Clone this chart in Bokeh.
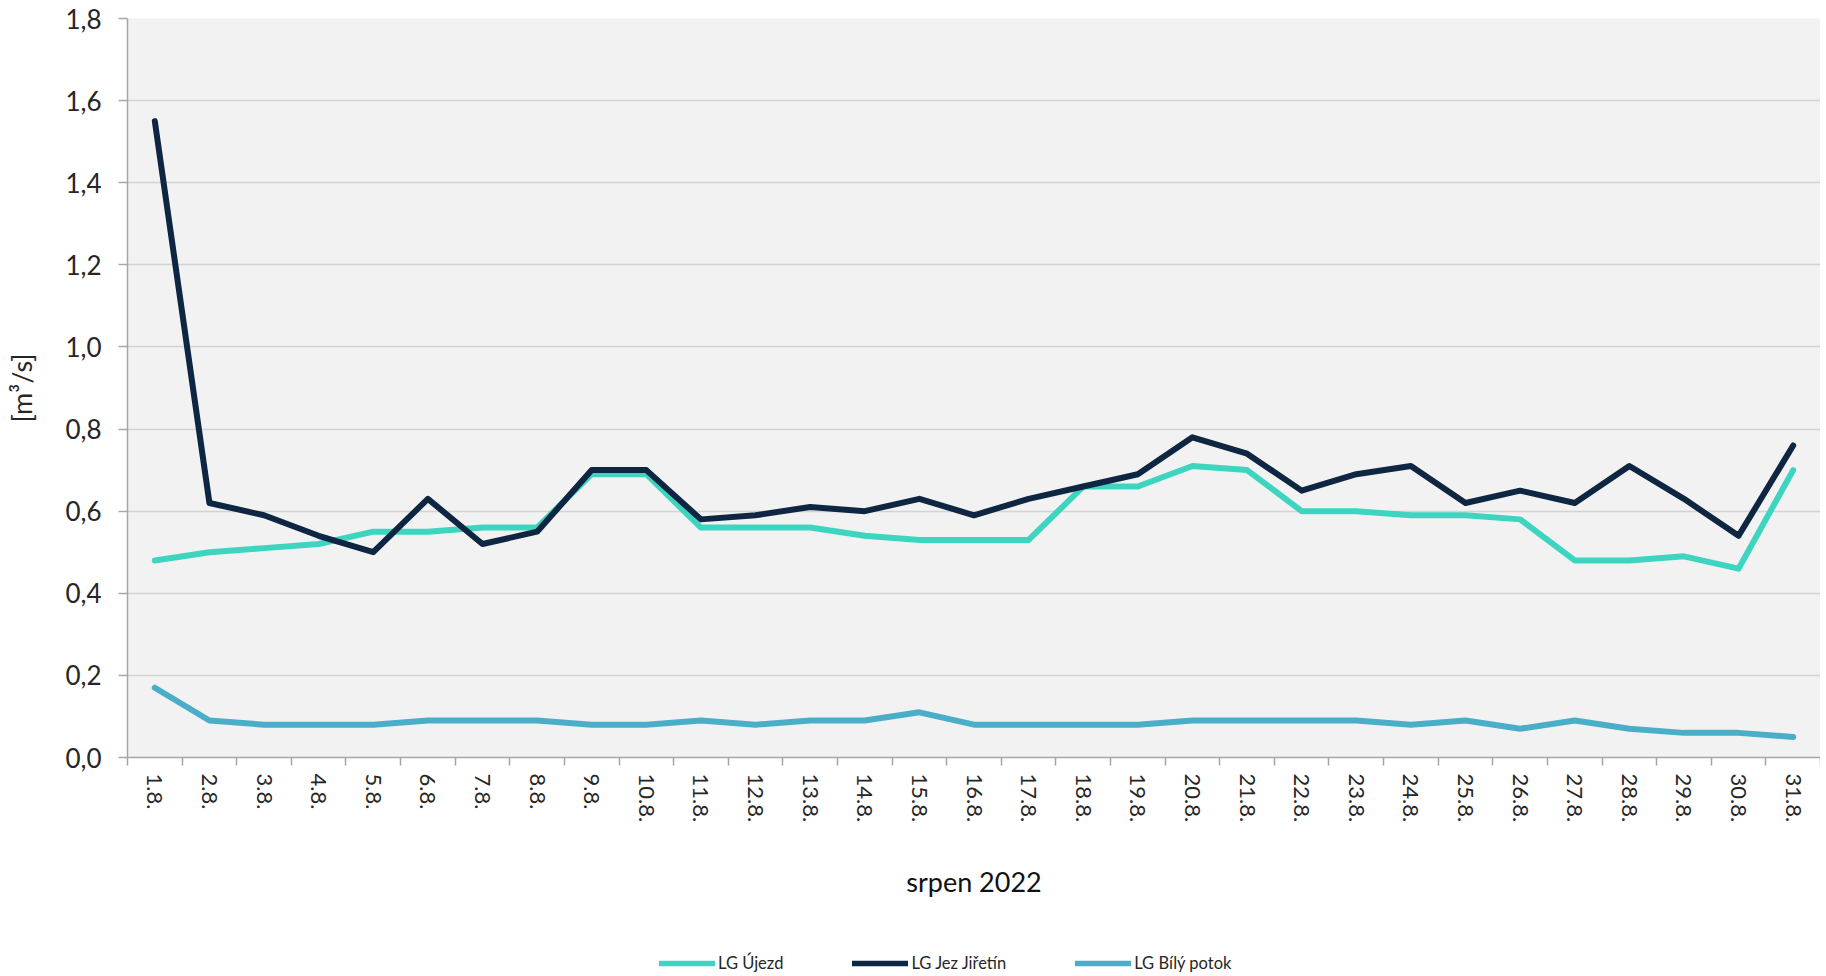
from bokeh.plotting import figure
from bokeh.models import Range1d, FixedTicker, CustomJSTickFormatter, Legend, LegendItem
from bokeh.layouts import column
from bokeh.embed import file_html
from bokeh.resources import INLINE

dates = ["1.8.", "2.8.", "3.8.", "4.8.", "5.8.", "6.8.", "7.8.", "8.8.", "9.8.", "10.8.",
         "11.8.", "12.8.", "13.8.", "14.8.", "15.8.", "16.8.", "17.8.", "18.8.", "19.8.", "20.8.",
         "21.8.", "22.8.", "23.8.", "24.8.", "25.8.", "26.8.", "27.8.", "28.8.", "29.8.", "30.8.", "31.8."]

ujezd = [0.48, 0.50, 0.51, 0.52, 0.55, 0.55, 0.56, 0.56, 0.69, 0.69,
         0.56, 0.56, 0.56, 0.54, 0.53, 0.53, 0.53, 0.66, 0.66, 0.71,
         0.70, 0.60, 0.60, 0.59, 0.59, 0.58, 0.48, 0.48, 0.49, 0.46, 0.70]

jez_jiretin = [1.55, 0.62, 0.59, 0.54, 0.50, 0.63, 0.52, 0.55, 0.70, 0.70,
               0.58, 0.59, 0.61, 0.60, 0.63, 0.59, 0.63, 0.66, 0.69, 0.78,
               0.74, 0.65, 0.69, 0.71, 0.62, 0.65, 0.62, 0.71, 0.63, 0.54, 0.76]

bily_potok = [0.17, 0.09, 0.08, 0.08, 0.08, 0.09, 0.09, 0.09, 0.08, 0.08,
              0.09, 0.08, 0.09, 0.09, 0.11, 0.08, 0.08, 0.08, 0.08, 0.09,
              0.09, 0.09, 0.09, 0.08, 0.09, 0.07, 0.09, 0.07, 0.06, 0.06, 0.05]

series_names = ["LG Újezd", "LG Jez Jiřetín", "LG Bílý potok"]
series_colors = ["#3DD5C0", "#0E2641", "#4AAEC8"]
series_values = [ujezd, jez_jiretin, bily_potok]

y_ticks = [0.0, 0.2, 0.4, 0.6, 0.8, 1.0, 1.2, 1.4, 1.6, 1.8]

FONT = "Lato"
TEXT_COLOR = "#262626"
AXIS_COLOR = "#A6A6A6"
W = 1820

x = list(range(len(dates)))

p = figure(width=W, height=920, output_backend="svg", toolbar_location=None,
           x_range=Range1d(-0.5, len(dates) - 0.5), y_range=Range1d(0, 1.8),
           min_border_left=127, min_border_right=0, min_border_top=18, min_border_bottom=163)

p.border_fill_color = "white"
p.outline_line_color = None
p.background_fill_color = "#F2F2F2"

# grid
p.xgrid.grid_line_color = None
p.ygrid.grid_line_color = "#D3D3D3"
p.ygrid.grid_line_width = 1.5
p.ygrid.ticker = FixedTicker(ticks=y_ticks)

# y axis
p.yaxis.ticker = FixedTicker(ticks=y_ticks)
p.yaxis.formatter = CustomJSTickFormatter(code="return tick.toFixed(1).replace('.', ',');")
p.yaxis.axis_line_color = AXIS_COLOR
p.yaxis.axis_line_width = 1.5
p.yaxis.major_tick_line_color = AXIS_COLOR
p.yaxis.major_tick_line_width = 1.5
p.yaxis.major_tick_out = 9
p.yaxis.major_tick_in = 0
p.yaxis.minor_tick_line_color = None
p.yaxis.major_label_text_font = FONT
p.yaxis.major_label_text_font_size = "26px"
p.yaxis.major_label_text_color = TEXT_COLOR
p.yaxis.major_label_standoff = 17
p.yaxis.axis_label = "[m³/s]"
p.yaxis.axis_label_text_font = FONT
p.yaxis.axis_label_text_font_size = "27px"
p.yaxis.axis_label_text_font_style = "normal"
p.yaxis.axis_label_text_color = TEXT_COLOR
p.yaxis.axis_label_standoff = 24

# x axis
minor = [i - 0.5 for i in range(len(dates) + 1)]
p.xaxis.ticker = FixedTicker(ticks=x, minor_ticks=minor)
p.xaxis.major_label_overrides = {i: d for i, d in zip(x, dates)}
p.xaxis.major_label_orientation = "vertical"
p.xaxis.axis_line_color = AXIS_COLOR
p.xaxis.axis_line_width = 1.5
p.xaxis.major_tick_line_color = None
p.xaxis.minor_tick_line_color = AXIS_COLOR
p.xaxis.minor_tick_line_width = 1.5
p.xaxis.minor_tick_out = 8
p.xaxis.minor_tick_in = 0
p.xaxis.major_label_text_font = FONT
p.xaxis.major_label_text_font_size = "22px"
p.xaxis.major_label_text_color = TEXT_COLOR
p.xaxis.major_label_standoff = 8
p.xaxis.axis_label = "srpen 2022"
p.xaxis.axis_label_text_font = FONT
p.xaxis.axis_label_text_font_size = "27px"
p.xaxis.axis_label_text_font_style = "normal"
p.xaxis.axis_label_text_color = "#111111"
p.xaxis.axis_label_standoff = 40

for vals, color in zip(series_values, series_colors):
    p.line(x, vals, line_color=color, line_width=6, line_cap="round", line_join="round")

# legend strip below the chart (its frame is aligned with the chart's frame);
# the series are drawn there outside the visible range so only the legend shows
lg = figure(width=W, height=56, output_backend="svg", toolbar_location=None,
            x_axis_location=None, y_axis_location=None,
            x_range=Range1d(100, 101), y_range=Range1d(100, 101),
            min_border_left=0, min_border_right=0, min_border_top=0, min_border_bottom=0)
lg.outline_line_color = None
lg.background_fill_color = "white"
lg.border_fill_color = "white"
lg.grid.visible = False

items = []
for name, vals, color in zip(series_names, series_values, series_colors):
    r = lg.line(x, vals, line_color=color, line_width=5.5, line_cap="round")
    items.append(LegendItem(label=name, renderers=[r]))

legend = Legend(items=items, orientation="horizontal", location=(532, 3),
                glyph_width=56, glyph_height=20, label_standoff=3, spacing=69,
                padding=0, margin=0, border_line_color=None, background_fill_alpha=0,
                label_text_font=FONT, label_text_font_size="16.5px", label_text_color=TEXT_COLOR)
lg.add_layout(legend, "center")

layout = column(p, lg, spacing=0)
open("out.html", "w").write(file_html(layout, INLINE))
